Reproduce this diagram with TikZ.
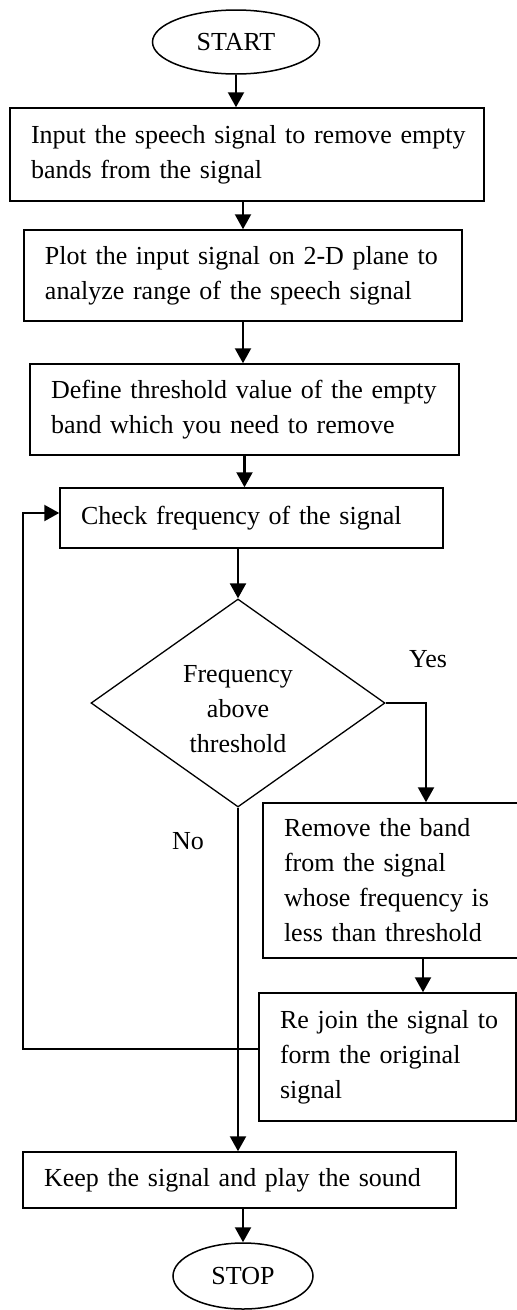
\documentclass[tikz,border=0pt]{standalone}
\usepackage{fontspec}
\setmainfont{Liberation Serif}
\usetikzlibrary{shapes.geometric,arrows.meta}
\begin{document}
\begin{tikzpicture}[x=1pt,y=-1pt,
  every node/.style={font=\fontsize{26}{35}\selectfont},
  box/.style={draw, line width=1.5pt, rectangle, inner sep=0pt, align=left},
  term/.style={draw, line width=1.5pt, ellipse, inner sep=0pt},
  decision/.style={draw, line width=1.3pt, diamond, aspect=1.4, inner sep=0pt},
  arr/.style={line width=2.2pt, -{Triangle[length=15pt,width=16pt]}}]
\useasboundingbox (0,0) rectangle (517,1310);

% terminals
\node[term, minimum width=167pt, minimum height=64pt] (start) at (236,42) {START};
\node[term, minimum width=140pt, minimum height=66pt] (stop) at (243,1276) {STOP};

% process steps
\node[box, minimum width=474pt, minimum height=93pt, text width=432pt] (input) at (247,154.5)
  {\mbox{Input the speech signal to remove empty}\\bands from the signal};
\node[box, minimum width=438pt, minimum height=91pt, text width=396pt] (plot) at (243,275.5)
  {\mbox{Plot the input signal on 2-D plane to}\\\mbox{analyze range of the speech signal}};
\node[box, minimum width=429pt, minimum height=91pt, text width=387pt] (thresh) at (244.5,409.5)
  {\mbox{Define threshold value of the empty}\\\mbox{band which you need to remove}};
\node[box, minimum width=383pt, minimum height=60pt, text width=341pt] (check) at (251.5,518)
  {\mbox{Check frequency of the signal}};
% decision text sits a little below the diamond's centre
\node[decision, minimum width=294pt, minimum height=208pt] (above) at (238,703)
  {\raisebox{-7pt}[\height][\depth]{\begin{tabular}{@{}c@{}}Frequency\\above\\threshold\end{tabular}}};
\node[box, minimum width=257pt, minimum height=155pt, text width=215pt] (remove) at (391.5,880.5)
  {\mbox{Remove the band}\\\mbox{from the signal}\\\mbox{whose frequency is}\\\mbox{less than threshold}};
\node[box, minimum width=257pt, minimum height=128pt, text width=215pt] (rejoin) at (387.5,1057)
  {\mbox{Re join the signal to}\\\mbox{form the original}\\signal};
\node[box, minimum width=433pt, minimum height=56pt, text width=391pt] (keep) at (239.5,1180)
  {\mbox{Keep the signal and play the sound}};

% branch labels
\node[anchor=base] (yes) at (428,667) {Yes};
\node[anchor=base] (no) at (188,849) {No};

% turning points
\coordinate (yesturn) at (426,703);
\coordinate (loopturn) at (23,513);

% main flow
\draw[arr] (start.south) -- (start.south |- input.north);
\draw[arr] (plot.north |- input.south) -- (plot.north);
\draw[arr] (plot.south) -- (plot.south |- thresh.north);
\draw[arr] (thresh.south) -- (thresh.south |- check.north);
\draw[arr] (above.north |- check.south) -- (above.north);
\draw[arr] (above.east) -- (yesturn) -- (yesturn |- remove.north);
\draw[arr] ([xshift=31.5pt]remove.south) -- ([xshift=31.5pt]remove.south |- rejoin.north);
\draw[arr] ([yshift=8pt]rejoin.west) -| (loopturn) -- (loopturn -| check.west);
\draw[arr] (above.south) -- (above.south |- keep.north);
\draw[arr] (stop.north |- keep.south) -- (stop.north);
\end{tikzpicture}
\end{document}
